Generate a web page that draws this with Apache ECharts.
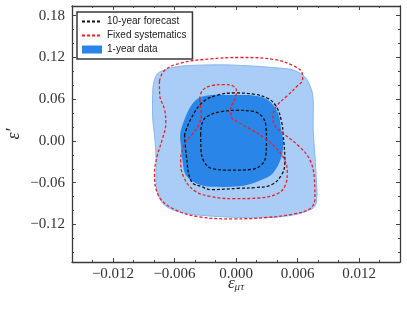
<!DOCTYPE html>
<html>
<head>
<meta charset="utf-8">
<script src="https://cdn.jsdelivr.net/npm/echarts@6/dist/echarts.min.js"></script>
<style>html,body{margin:0;padding:0;background:#fff}#c{width:407px;height:313px}</style>
</head>
<body>
<div id="c"></div>
<script>
// Axis ticks
const xMajor = [-0.012, -0.006, 0, 0.006, 0.012];
const xTickLabels = ['\u22120.012', '\u22120.006', '0.000', '0.006', '0.012'];
const xMinor = [-0.014, -0.010, -0.008, -0.004, -0.002, 0.002, 0.004, 0.008, 0.010, 0.014];
const yMajor = [-0.12, -0.06, 0, 0.06, 0.12, 0.18];
const yTickLabels = ['\u22120.12', '\u22120.06', '0.00', '0.06', '0.12', '0.18'];
const yMinor = [-0.16, -0.14, -0.10, -0.08, -0.04, -0.02, 0.02, 0.04, 0.08, 0.10, 0.14, 0.16];

// 1-year data, outer (light) region
const oneYearOuter = [
  [-0.00812, 0.073], [-0.00812, 0.030], [-0.00795, 0.009], [-0.00779, -0.027], [-0.00779, -0.063],
  [-0.00747, -0.082], [-0.00698, -0.092], [-0.00600, -0.100], [-0.00404, -0.106], [0.00036, -0.110],
  [0.00330, -0.110], [0.00575, -0.106], [0.00702, -0.100], [0.00770, -0.094], [0.00790, -0.078],
  [0.00787, -0.063], [0.00770, -0.020], [0.00753, 0.016], [0.00753, 0.059], [0.00731, 0.076],
  [0.00672, 0.092], [0.00575, 0.101], [0.00477, 0.104], [-0.00013, 0.109], [-0.00355, 0.109],
  [-0.00568, 0.107], [-0.00698, 0.102], [-0.00763, 0.097], [-0.00795, 0.088]
];
// 1-year data, inner (dark) region
const oneYearInner = [
  [-0.00545, 0.009], [-0.00534, -0.011], [-0.00524, -0.027], [-0.00485, -0.050], [-0.00355, -0.063],
  [-0.00200, -0.066], [0.00036, -0.065], [0.00117, -0.063], [0.00281, -0.054], [0.00362, -0.046],
  [0.00444, -0.023], [0.00460, 0.001], [0.00444, 0.013], [0.00411, 0.040], [0.00313, 0.059],
  [0.00183, 0.065], [-0.00013, 0.066], [-0.00241, 0.066], [-0.00372, 0.061], [-0.00453, 0.047],
  [-0.00522, 0.023]
];
// 10-year forecast contours
const forecastOuter = [
  [-0.00502, 0.009], [-0.00485, -0.020], [-0.00436, -0.058], [-0.00330, -0.066], [-0.00241, -0.070],
  [0.00036, -0.068], [0.00183, -0.067], [0.00346, -0.063], [0.00444, -0.049], [0.00477, -0.030],
  [0.00460, 0.009], [0.00444, 0.028], [0.00395, 0.049], [0.00313, 0.061], [0.00183, 0.067],
  [-0.00013, 0.069], [-0.00176, 0.066], [-0.00323, 0.056], [-0.00436, 0.033], [-0.00502, 0.009]
];
const forecastInner = [
  [-0.00345, 0.010], [-0.00342, -0.012], [-0.00310, -0.030], [-0.00230, -0.040], [-0.00050, -0.042],
  [0.00150, -0.041], [0.00250, -0.034], [0.00290, -0.022], [0.00297, 0.000], [0.00293, 0.020],
  [0.00250, 0.036], [0.00150, 0.043], [0.00000, 0.044], [-0.00150, 0.042], [-0.00260, 0.037],
  [-0.00325, 0.028], [-0.00345, 0.010]
];
// Fixed systematics contours
const fixedOuter = [
  [-0.00747, 0.086], [-0.00700, 0.101], [-0.00540, 0.112], [-0.00250, 0.118], [0.00040, 0.120],
  [0.00380, 0.117], [0.00560, 0.108], [0.00645, 0.098], [0.00650, 0.089], [0.00590, 0.078],
  [0.00500, 0.065], [0.00395, 0.050], [0.00360, 0.036], [0.00375, 0.023], [0.00470, 0.010],
  [0.00610, -0.007], [0.00720, -0.027], [0.00765, -0.055], [0.00770, -0.082], [0.00725, -0.097],
  [0.00560, -0.105], [0.00300, -0.110], [-0.00020, -0.112], [-0.00360, -0.109], [-0.00590, -0.099],
  [-0.00750, -0.080], [-0.00795, -0.046], [-0.00770, -0.022], [-0.00720, 0.002], [-0.00685, 0.025],
  [-0.00695, 0.044], [-0.00745, 0.067], [-0.00747, 0.086]
];
const fixedInner = [
  [-0.00355, 0.060], [-0.00330, 0.072], [-0.00250, 0.079], [-0.00120, 0.081], [-0.00030, 0.079],
  [0.00005, 0.072], [-0.00010, 0.060], [-0.00050, 0.047], [-0.00050, 0.036], [0.00020, 0.027],
  [0.00140, 0.017], [0.00280, 0.004], [0.00390, -0.010], [0.00470, -0.026], [0.00500, -0.044],
  [0.00480, -0.064], [0.00400, -0.076], [0.00220, -0.082], [-0.00020, -0.083], [-0.00240, -0.080],
  [-0.00400, -0.072], [-0.00510, -0.052], [-0.00540, -0.028], [-0.00500, -0.004], [-0.00420, 0.011],
  [-0.00360, 0.024], [-0.00340, 0.040], [-0.00355, 0.060]
];

const lightBlue = '#a9cdf6';
const darkBlue = '#2a85e8';
const serif = 'Liberation Serif';

function lab(vals, labels) {
  return function (v) {
    let best = 0, d = Infinity;
    vals.forEach((t, i) => { if (Math.abs(t - v) < d) { d = Math.abs(t - v); best = i; } });
    return labels[best];
  };
}

function fillSeries(name, pts, color, stroke) {
  return {
    type: 'custom', name: name, coordinateSystem: 'cartesian2d', clip: true,
    itemStyle: { color: color }, color: color,
    data: pts,
    renderItem: function (params, api) {
      if (params.dataIndex !== 0) return null;
      const p = pts.map(d => api.coord(d));
      return {
        type: 'polygon',
        shape: { points: p, smooth: 0.35 },
        style: { fill: color, stroke: stroke || 'none', lineWidth: stroke ? 1 : 0 }
      };
    }
  };
}

function dashSeries(name, pts, color) {
  return {
    type: 'line', name: name, data: pts, smooth: 0.4, symbol: 'none', clip: true,
    color: color,
    lineStyle: { color: color, width: 1.3, type: [3, 2] },
    z: 5
  };
}

const xBase = { type: 'value', min: -0.016, max: 0.016, splitLine: { show: false } };
const yBase = { type: 'value', min: -0.174, max: 0.194, splitLine: { show: false } };
const frameLine = { show: true, onZero: false, lineStyle: { color: '#3a3a3a', width: 1.3 } };
const noLine = { show: false, onZero: false };

const option = {
  animation: false,
  grid: { left: 72, right: 7, top: 6, bottom: 51, containLabel: false, outerBoundsMode: 'none' },
  legend: {
    left: 77, top: 12, orient: 'vertical',
    backgroundColor: '#fff', borderColor: '#3a3a3a', borderWidth: 1.5,
    padding: [4, 6, 4, 4], itemWidth: 20, itemHeight: 8, itemGap: 3,
    itemStyle: { opacity: 0 },
    textStyle: { fontFamily: 'Liberation Sans', fontSize: 10, color: '#222', lineHeight: 11 },
    data: [
      { name: '10-year forecast' },
      { name: 'Fixed systematics' },
      { name: '1-year data', icon: 'rect', itemStyle: { color: darkBlue, opacity: 1 } }
    ]
  },
  xAxis: [
    Object.assign({}, xBase, {
      position: 'bottom', axisLine: frameLine,
      axisTick: { show: true, inside: true, length: 4, customValues: xMajor, lineStyle: { color: '#444' } },
      axisLabel: { customValues: xMajor, formatter: lab(xMajor, xTickLabels), fontFamily: serif, fontSize: 15, color: '#333', margin: 5 },
      name: '{a|\u03b5}{b|\u03bc\u03c4}', nameLocation: 'middle', nameGap: 13, nameMoveOverlap: false,
      nameTextStyle: {
        rich: {
          a: { fontFamily: serif, fontStyle: 'italic', fontSize: 17, color: '#333', lineHeight: 18, verticalAlign: 'middle' },
          b: { fontFamily: serif, fontStyle: 'italic', fontSize: 11, color: '#333', lineHeight: 8, verticalAlign: 'bottom' }
        }
      }
    }),
    Object.assign({}, xBase, {
      position: 'bottom', axisLine: noLine,
      axisTick: { show: true, inside: true, length: 2, customValues: xMinor, lineStyle: { color: '#444' } },
      axisLabel: { show: false }
    }),
    Object.assign({}, xBase, {
      position: 'top', axisLine: frameLine,
      axisTick: { show: true, inside: true, length: 4, customValues: xMajor, lineStyle: { color: '#444' } },
      axisLabel: { show: false }
    }),
    Object.assign({}, xBase, {
      position: 'top', axisLine: noLine,
      axisTick: { show: true, inside: true, length: 2, customValues: xMinor, lineStyle: { color: '#444' } },
      axisLabel: { show: false }
    })
  ],
  yAxis: [
    Object.assign({}, yBase, {
      position: 'left', axisLine: frameLine,
      axisTick: { show: true, inside: true, length: 4, customValues: yMajor, lineStyle: { color: '#444' } },
      axisLabel: { customValues: yMajor, formatter: lab(yMajor, yTickLabels), fontFamily: serif, fontSize: 15, color: '#333', margin: 7 },
      name: '\u03b5\u2032', nameLocation: 'middle', nameGap: 49, nameRotate: 90, nameMoveOverlap: false,
      nameTextStyle: { fontFamily: serif, fontStyle: 'italic', fontSize: 18, color: '#333' }
    }),
    Object.assign({}, yBase, {
      position: 'left', axisLine: noLine,
      axisTick: { show: true, inside: true, length: 2, customValues: yMinor, lineStyle: { color: '#444' } },
      axisLabel: { show: false }
    }),
    Object.assign({}, yBase, {
      position: 'right', axisLine: frameLine,
      axisTick: { show: true, inside: true, length: 4, customValues: yMajor, lineStyle: { color: '#444' } },
      axisLabel: { show: false }
    }),
    Object.assign({}, yBase, {
      position: 'right', axisLine: noLine,
      axisTick: { show: true, inside: true, length: 2, customValues: yMinor, lineStyle: { color: '#444' } },
      axisLabel: { show: false }
    })
  ],
  series: [
    fillSeries('1-year data (2\u03c3)', oneYearOuter, lightBlue, '#85b6ef'),
    fillSeries('1-year data', oneYearInner, darkBlue, null),
    dashSeries('10-year forecast', forecastOuter, '#111'),
    dashSeries('10-year forecast', forecastInner, '#111'),
    dashSeries('Fixed systematics', fixedOuter, '#e8202a'),
    dashSeries('Fixed systematics', fixedInner, '#e8202a')
  ]
};

const chart = echarts.init(document.getElementById('c'), null, { renderer: 'canvas' });
chart.setOption(option);
</script>
</body>
</html>
